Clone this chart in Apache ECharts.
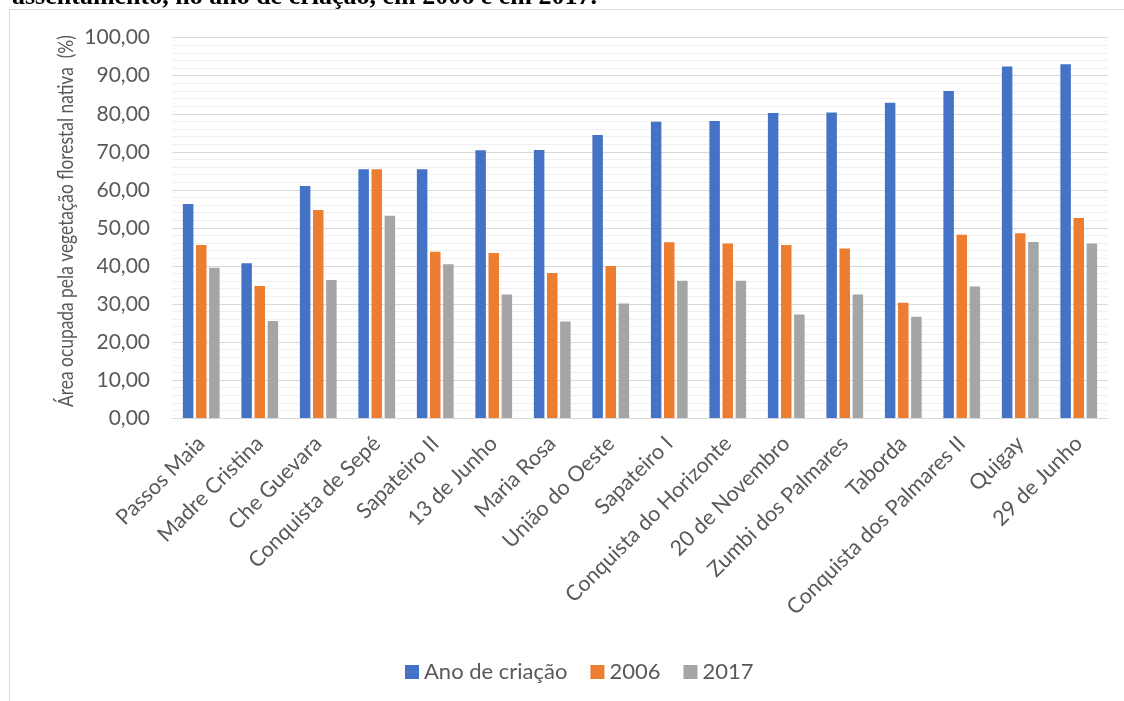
<!DOCTYPE html>
<html>
<head>
<meta charset="utf-8">
<script src="https://cdn.jsdelivr.net/npm/echarts@6/dist/echarts.min.js"></script>
<style>
  html, body { margin: 0; padding: 0; background: #fff; }
  #chart { width: 1124px; height: 701px; }
</style>
</head>
<body>
<div id="chart"></div>
<script>
// Settlements (assentamentos), ordered by native forest share at creation
const categories = [
  'Passos Maia', 'Madre Cristina', 'Che Guevara', 'Conquista de Sepé',
  'Sapateiro II', '13 de Junho', 'Maria Rosa', 'União do Oeste',
  'Sapateiro I', 'Conquista do Horizonte', '20 de Novembro',
  'Zumbi dos Palmares', 'Taborda', 'Conquista dos Palmares II',
  'Quigay', '29 de Junho'
];

// Share of area covered by native forest (%)
const anoCriacao = [56.3, 40.7, 61.0, 65.4, 65.4, 70.4, 70.5, 74.4, 77.9, 78.1, 80.2, 80.3, 82.9, 86.0, 92.4, 93.0];
const ano2006    = [45.5, 34.7, 54.7, 65.4, 43.7, 43.4, 38.1, 40.0, 46.2, 45.9, 45.5, 44.6, 30.3, 48.2, 48.6, 52.6];
const ano2017    = [39.5, 25.5, 36.3, 53.2, 40.4, 32.5, 25.4, 30.1, 36.1, 36.1, 27.2, 32.5, 26.6, 34.6, 46.3, 45.9];

const seriesNames = ['Ano de criação', '2006', '2017'];
const yTitle = 'Área ocupada pela vegetação florestal nativa  (%)';
const headline = 'assentamento, no ano de criação, em 2006 e em 2017.';

const FONT = 'Lato, "Open Sans", sans-serif';
const TEXT = '#595959';

const chart = echarts.init(document.getElementById('chart'), null, { renderer: 'canvas' });

const bar = (name, data, color) => ({
  name,
  type: 'bar',
  data,
  barWidth: 10.5,
  barGap: '25%',
  itemStyle: { color },
  emphasis: { disabled: true }
});

chart.setOption({
  animation: false,
  textStyle: { fontFamily: FONT },
  graphic: [
    // chart frame
    {
      type: 'rect',
      shape: { x: 9.5, y: 9.5, width: 1300, height: 900 },
      style: { fill: 'none', stroke: '#d9d9d9', lineWidth: 1 },
      silent: true
    },
    // caption line running above the frame
    {
      type: 'text',
      x: 12,
      y: 10,
      style: {
        text: headline,
        font: 'bold 26px "Liberation Serif", "Times New Roman", serif',
        fill: '#000',
        verticalAlign: 'bottom'
      },
      silent: true
    },
    // value-axis title, set slightly condensed
    {
      type: 'text',
      x: 66,
      y: 221,
      rotation: Math.PI / 2,
      scaleX: 0.79,
      style: {
        text: yTitle,
        font: '22px ' + FONT,
        fill: TEXT,
        align: 'center',
        verticalAlign: 'middle'
      },
      silent: true
    }
  ],
  legend: {
    data: seriesNames,
    left: 400,
    top: 656,
    itemWidth: 14,
    itemHeight: 14,
    itemGap: 23,
    icon: 'rect',
    textStyle: { color: TEXT, fontSize: 22, fontFamily: FONT }
  },
  grid: {
    left: 172,
    right: 16,
    top: 37.7,
    bottom: 283,
    containLabel: false
  },
  xAxis: {
    type: 'category',
    data: categories,
    axisTick: { show: false },
    axisLine: { show: true, lineStyle: { color: '#d9d9d9', width: 1 } },
    axisLabel: {
      rotate: 45,
      interval: 0,
      margin: 22,
      color: TEXT,
      fontSize: 21.5,
      fontFamily: FONT
    }
  },
  yAxis: {
    type: 'value',
    min: 0,
    max: 100,
    interval: 10,
    axisLine: { show: false },
    axisTick: { show: false },
    axisLabel: {
      margin: 22,
      color: TEXT,
      fontSize: 21,
      fontFamily: FONT,
      formatter: v => v.toFixed(2).replace('.', ',')
    },
    splitLine: { show: true, lineStyle: { color: '#d9d9d9', width: 1 } },
    minorTick: { show: false, splitNumber: 5 },
    minorSplitLine: { show: true, lineStyle: { color: '#f0f0f0', width: 1 } }
  },
  series: [
    bar(seriesNames[0], anoCriacao, '#4472C4'),
    bar(seriesNames[1], ano2006, '#ED7D31'),
    bar(seriesNames[2], ano2017, '#A5A5A5')
  ]
});
</script>
</body>
</html>
